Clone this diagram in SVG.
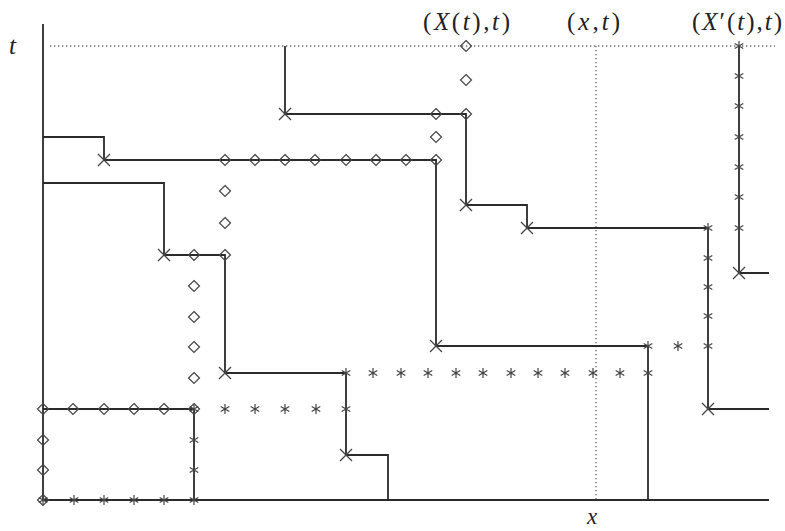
<svg xmlns="http://www.w3.org/2000/svg" xmlns:xlink="http://www.w3.org/1999/xlink" width="785" height="531" viewBox="0 0 785 531">
<style>
.ln{fill:none;stroke:#2b2b2b;stroke-width:1.8}
.dot{fill:none;stroke:#666;stroke-width:1.3;stroke-dasharray:1.3 2.7}
.mk{fill:none;stroke:#444;stroke-width:1.2}
.lbl{font-family:"Liberation Serif","DejaVu Serif",serif;font-size:25px;fill:#222}
.it{font-style:italic}
</style>
<defs>
<path id="d" class="mk" d="M0,-5.5 L5.5,0 L0,5.5 L-5.5,0 Z"/>
<path id="a" class="mk" d="M0,-5 V5 M-4.3,-2.5 L4.3,2.5 M-4.3,2.5 L4.3,-2.5"/>
<path id="c" class="mk" d="M-6,-6 L6,6 M-6,6 L6,-6" style="stroke-width:1.3"/>
</defs>
<rect width="785" height="531" fill="#fff"/>
<g id="axes">
<path class="ln" d="M43,24 V500 H769"/>
<path class="dot" d="M50,46 H775"/>
<path class="dot" d="M596,46 V500"/>
</g>
<g id="connectors">
<path class="ln" d="M285,46 V114 H466 V205 H527 V228 H708 V409 H769"/>
<path class="ln" d="M43,137 H104 V160 H436 V346 H648 V500"/>
<path class="ln" d="M43,183 H164 V255 H225 V373 H346 V455 H388 V500"/>
<path class="ln" d="M739,46 V273 H769"/>
<path class="ln" d="M43,409 H194 V500"/>
</g>
<g id="diamonds">
<use href="#d" x="466" y="46"/><use href="#d" x="466" y="80"/><use href="#d" x="466" y="114"/>
<use href="#d" x="436" y="114"/><use href="#d" x="436" y="137"/>
<use href="#d" x="225" y="160"/><use href="#d" x="255" y="160"/><use href="#d" x="285" y="160"/><use href="#d" x="315" y="160"/><use href="#d" x="346" y="160"/><use href="#d" x="376" y="160"/><use href="#d" x="406" y="160"/><use href="#d" x="436" y="160"/>
<use href="#d" x="225" y="191"/><use href="#d" x="225" y="223"/><use href="#d" x="225" y="255"/>
<use href="#d" x="194" y="255"/><use href="#d" x="194" y="286"/><use href="#d" x="194" y="317"/><use href="#d" x="194" y="347"/><use href="#d" x="194" y="378"/><use href="#d" x="194" y="409"/>
<use href="#d" x="43" y="409"/><use href="#d" x="73" y="409"/><use href="#d" x="104" y="409"/><use href="#d" x="134" y="409"/><use href="#d" x="164" y="409"/>
<use href="#d" x="43" y="440"/><use href="#d" x="43" y="470"/><use href="#d" x="43" y="500"/>
</g>
<g id="asterisks">
<use href="#a" x="43" y="500"/><use href="#a" x="74" y="500"/><use href="#a" x="104" y="500"/><use href="#a" x="134" y="500"/><use href="#a" x="164" y="500"/><use href="#a" x="194" y="500"/>
<use href="#a" x="194" y="409"/><use href="#a" x="194" y="440"/><use href="#a" x="194" y="470"/>
<use href="#a" x="225" y="409"/><use href="#a" x="255" y="409"/><use href="#a" x="285" y="409"/><use href="#a" x="316" y="409"/><use href="#a" x="346" y="409"/>
<use href="#a" x="346" y="373"/><use href="#a" x="373" y="373"/><use href="#a" x="401" y="373"/><use href="#a" x="428" y="373"/><use href="#a" x="456" y="373"/><use href="#a" x="483" y="373"/><use href="#a" x="511" y="373"/><use href="#a" x="538" y="373"/><use href="#a" x="565" y="373"/><use href="#a" x="593" y="373"/><use href="#a" x="620" y="373"/><use href="#a" x="648" y="373"/>
<use href="#a" x="648" y="346"/><use href="#a" x="678" y="346"/><use href="#a" x="708" y="346"/>
<use href="#a" x="708" y="228"/><use href="#a" x="708" y="258"/><use href="#a" x="708" y="287"/><use href="#a" x="708" y="316"/>
<use href="#a" x="739" y="46"/><use href="#a" x="739" y="76"/><use href="#a" x="739" y="106"/><use href="#a" x="739" y="137"/><use href="#a" x="739" y="167"/><use href="#a" x="739" y="197"/><use href="#a" x="739" y="228"/>
</g>
<g id="crosses">
<use href="#c" x="285" y="114"/><use href="#c" x="104" y="160"/><use href="#c" x="164" y="255"/><use href="#c" x="225" y="373"/><use href="#c" x="346" y="455"/><use href="#c" x="436" y="346"/><use href="#c" x="466" y="205"/><use href="#c" x="527" y="228"/><use href="#c" x="708" y="409"/><use href="#c" x="739" y="273"/>
</g>
<g id="labels">
<text class="lbl it" x="9" y="54">t</text>
<text class="lbl" x="423" y="30" textLength="87" lengthAdjust="spacing">(<tspan class="it">X</tspan>(<tspan class="it">t</tspan>),<tspan class="it">t</tspan>)</text>
<text class="lbl" x="567" y="30" textLength="53" lengthAdjust="spacing">(<tspan class="it">x</tspan>,<tspan class="it">t</tspan>)</text>
<text class="lbl" x="692" y="30" textLength="90" lengthAdjust="spacing">(<tspan class="it">X</tspan>′(<tspan class="it">t</tspan>),<tspan class="it">t</tspan>)</text>
<text class="lbl it" x="587" y="524" style="font-size:23px">x</text>
</g>
</svg>
